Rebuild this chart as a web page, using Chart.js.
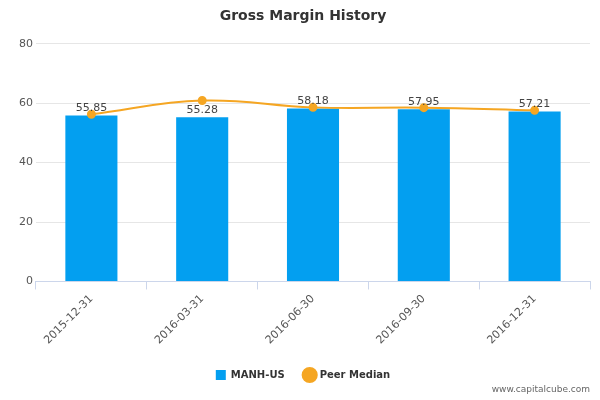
<!DOCTYPE html>
<html>
<head>
<meta charset="utf-8">
<script src="https://cdn.jsdelivr.net/npm/chart.js@4"></script>
<style>
  html, body { margin: 0; padding: 0; background: #fff; }
  #wrap { width: 600px; height: 400px; position: relative; }
  #credit { position: absolute; right: 10px; bottom: 6px; font: 9px "DejaVu Sans", sans-serif; color: #666; }
</style>
</head>
<body>
<div id="wrap">
  <canvas id="chart" width="600" height="400"></canvas>
  <div id="credit">www.capitalcube.com</div>
</div>
<script>
'use strict';

// ─── Data ─────────────────────────────────────────────────────────────────────
const categories  = ['2015-12-31', '2016-03-31', '2016-06-30', '2016-09-30', '2016-12-31'];
const companyVals = [55.85, 55.28, 58.18, 57.95, 57.21];
const peerVals    = [56.3, 60.9, 58.6, 58.5, 57.6];

// Draw the value labels above each bar
const barLabels = {
  id: 'barLabels',
  afterDatasetsDraw(chart) {
    const ctx = chart.ctx;
    const meta = chart.getDatasetMeta(1);
    ctx.save();
    ctx.font = '11px "DejaVu Sans", sans-serif';
    ctx.fillStyle = '#444';
    ctx.textAlign = 'center';
    ctx.textBaseline = 'bottom';
    meta.data.forEach((bar, i) => {
      ctx.fillText(companyVals[i].toFixed(2), bar.x, bar.y - 2);
    });
    ctx.restore();
  },
};

new Chart(document.getElementById('chart').getContext('2d'), {
  type: 'bar',
  data: {
    labels: categories,
    datasets: [
      {
        type: 'line',
        label: 'Peer Median',
        data: peerVals,
        borderColor: '#f5a623',
        backgroundColor: '#f5a623',
        borderWidth: 2,
        pointRadius: 3.5,
        pointStyle: 'circle',
        tension: 0.4,
        order: 0,
      },
      {
        label: 'MANH-US',
        data: companyVals,
        backgroundColor: '#039ff0',
        pointStyle: 'rect',
        categoryPercentage: 1,
        barPercentage: 0.47,
        order: 1,
      },
    ],
  },
  options: {
    responsive: false,
    animation: false,
    layout: { padding: { left: 16, right: 10, top: 0, bottom: 10 } },
    plugins: {
      title: {
        display: true,
        text: 'Gross Margin History',
        color: '#333',
        font: { family: '"DejaVu Sans", sans-serif', size: 14, weight: 'bold' },
        padding: { top: 8, bottom: 19 },
      },
      legend: {
        position: 'bottom',
        reverse: true,
        labels: {
          color: '#333',
          font: { family: '"DejaVu Sans", sans-serif', size: 10, weight: 'bold' },
          boxWidth: 14, boxHeight: 10,
          usePointStyle: true,
          padding: 20,
        },
      },
      tooltip: { enabled: false },
    },
    scales: {
      x: {
        grid: { display: true, drawOnChartArea: false, color: '#ccd6eb', tickLength: 8, offset: true },
        border: { color: '#ccd6eb' },
        ticks: { color: '#555', font: { family: '"DejaVu Sans", sans-serif', size: 11 }, maxRotation: 45, minRotation: 45 },
      },
      y: {
        min: 0, max: 80,
        ticks: { stepSize: 20, color: '#555', font: { family: '"DejaVu Sans", sans-serif', size: 11 } },
        grid: { color: '#e6e6e6', drawTicks: false },
        border: { display: false },
      },
    },
  },
  plugins: [barLabels],
});
</script>
</body>
</html>
